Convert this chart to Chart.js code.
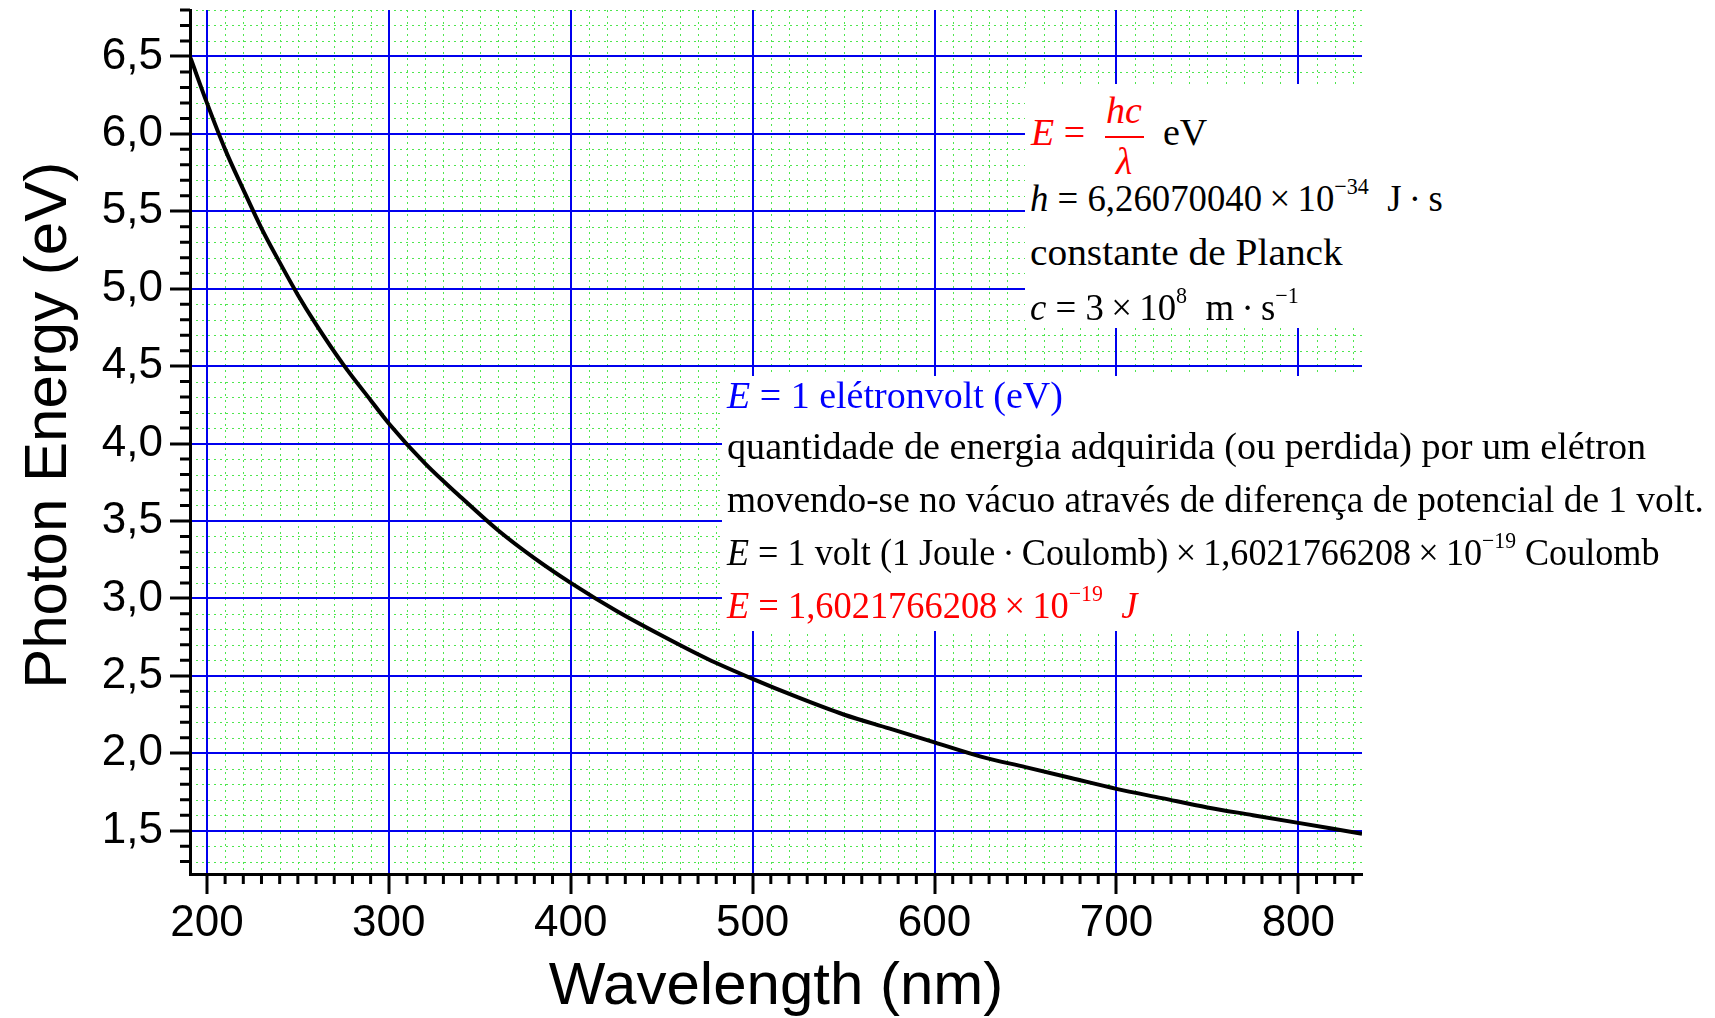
<!DOCTYPE html>
<html>
<head>
<meta charset="utf-8">
<title>Photon Energy vs Wavelength</title>
<script src="https://cdn.jsdelivr.net/npm/chart.js@4.4.1/dist/chart.umd.min.js"></script>
<style>
  html, body { margin: 0; padding: 0; background: #fff; }
  #wrap { position: relative; width: 1715px; height: 1018px; overflow: hidden; }
  .box { position: absolute; background: #fff; }
  .ln { position: absolute; white-space: nowrap; font-family: "Liberation Serif", serif;
        font-size: 38px; line-height: 38px; color: #000; transform-origin: 0 50%; }
  .ln sup { font-size: 0.6em; vertical-align: baseline; position: relative; top: -0.75em; }
  .red { color: #ff0000; }
  .blue { color: #0000ff; }
</style>
</head>
<body>
<div id="wrap">
  <canvas id="chart" width="1715" height="1018"></canvas>

  <!-- formula box, top right -->
  <div class="box" style="left:1025px; top:84px; width:440px; height:244px;"></div>
  <div class="ln red" style="left:1031px; top:113px;"><i>E</i> =</div>
  <div class="ln red" style="left:1103px; top:91px; width:42px; text-align:center;"><i>hc</i></div>
  <div style="position:absolute; left:1105px; top:136px; width:39px; height:2px; background:#ff0000;"></div>
  <div class="ln red" style="left:1103px; top:142px; width:42px; text-align:center;"><i>λ</i></div>
  <div class="ln" style="left:1163px; top:113px;">eV</div>
  <div class="ln" data-w="413" style="left:1030px; top:179px;"><i>h</i> = 6,26070040&thinsp;×&thinsp;10<sup>−34</sup>&nbsp; J&thinsp;·&thinsp;s</div>
  <div class="ln" data-w="313" style="left:1030px; top:233px;">constante de Planck</div>
  <div class="ln" data-w="269" style="left:1030px; top:288px;"><i>c</i> = 3&thinsp;×&thinsp;10<sup>8</sup>&nbsp; m&thinsp;·&thinsp;s<sup>−1</sup></div>

  <!-- electronvolt box, middle right -->
  <div class="box" style="left:722px; top:376px; width:993px; height:255px;"></div>
  <div class="ln blue" data-w="336" style="left:727px; top:376px;"><i>E</i> = 1 elétronvolt (eV)</div>
  <div class="ln" data-w="919" style="left:727px; top:427px;">quantidade de energia adquirida (ou perdida) por um elétron</div>
  <div class="ln" data-w="977" style="left:727px; top:480px;">movendo-se no vácuo através de diferença de potencial de 1 volt.</div>
  <div class="ln" data-w="933" style="left:727px; top:533px;"><i>E</i> = 1 volt (1 Joule&thinsp;·&thinsp;Coulomb)&thinsp;×&thinsp;1,6021766208&thinsp;×&thinsp;10<sup>−19</sup> Coulomb</div>
  <div class="ln red" data-w="410" style="left:727px; top:586px;"><i>E</i> = 1,6021766208&thinsp;×&thinsp;10<sup>−19</sup>&nbsp;&nbsp;<i>J</i></div>
</div>

<script>
// values (nm -> eV)
const wavelength = [191, 200, 210, 220, 230, 240, 250, 260, 275, 290, 300, 320, 340, 360, 380, 400,
  425, 450, 475, 500, 525, 550, 575, 600, 625, 650, 675, 700, 725, 750, 775, 800, 835];
const energy = [6.49, 6.20, 5.90, 5.64, 5.39, 5.17, 4.96, 4.77, 4.51, 4.28, 4.13, 3.87, 3.65, 3.44, 3.26, 3.10,
  2.92, 2.76, 2.61, 2.48, 2.36, 2.25, 2.16, 2.07, 1.98, 1.91, 1.84, 1.77, 1.71, 1.65, 1.60, 1.55, 1.48];

const xTicks = [200, 300, 400, 500, 600, 700, 800];
const yTicks = [1.5, 2.0, 2.5, 3.0, 3.5, 4.0, 4.5, 5.0, 5.5, 6.0, 6.5];

const X_MIN = 190.7, X_MAX = 835;
const Y_MIN = 1.22, Y_MAX = 6.8;
const X_MINOR = 10, Y_MINOR = 0.1;

// squeeze the annotation lines to the widths they have in the original
function fitLines() {
  document.querySelectorAll('.ln[data-w]').forEach(el => {
    const w = el.scrollWidth;
    if (w > 0) el.style.transform = 'scaleX(' + (+el.dataset.w / w) + ')';
  });
}
if (document.fonts && document.fonts.ready) document.fonts.ready.then(fitLines);
fitLines();

// green dotted minor grid + short minor ticks, drawn under the blue major grid
const minorGrid = {
  id: 'minorGrid',
  beforeDraw(chart) {
    const { ctx, chartArea: a, scales: { x, y } } = chart;
    ctx.save();
    ctx.fillStyle = '#fff';
    ctx.fillRect(0, 0, chart.width, chart.height);

    const xs = [];
    for (let i = Math.ceil(X_MIN / X_MINOR); i * X_MINOR <= X_MAX; i++) {
      if (i % 10 !== 0) xs.push(x.getPixelForValue(i * X_MINOR));
    }
    const ys = [];
    for (let i = Math.ceil(Y_MIN / Y_MINOR - 1e-6); i * Y_MINOR <= Y_MAX + 1e-6; i++) {
      if (i % 5 !== 0) ys.push(y.getPixelForValue(i * Y_MINOR));
    }

    ctx.strokeStyle = '#4ee64e';
    ctx.lineWidth = 1;
    ctx.setLineDash([2, 4]);
    ctx.beginPath();
    xs.forEach(px => { const p = Math.round(px) + 0.5; ctx.moveTo(p, a.top); ctx.lineTo(p, a.bottom); });
    ys.forEach(py => { const p = Math.round(py) + 0.5; ctx.moveTo(a.left, p); ctx.lineTo(a.right, p); });
    ctx.stroke();

    ctx.setLineDash([]);
    ctx.strokeStyle = '#000';
    ctx.lineWidth = 3;
    ctx.beginPath();
    xs.forEach(px => { ctx.moveTo(px, a.bottom); ctx.lineTo(px, a.bottom + 10); });
    ys.forEach(py => { ctx.moveTo(a.left - 10, py); ctx.lineTo(a.left, py); });
    ctx.stroke();
    ctx.restore();
  }
};

const tickFont = { family: 'Liberation Sans, Arial, sans-serif', size: 44 };
const titleFont = { family: 'Liberation Sans, Arial, sans-serif', size: 60, lineHeight: 1 };

new Chart(document.getElementById('chart'), {
  type: 'line',
  data: {
    datasets: [{
      data: wavelength.map((w, i) => ({ x: w, y: energy[i] })),
      borderColor: '#000',
      borderWidth: 4,
      pointRadius: 0,
      fill: false,
      cubicInterpolationMode: 'monotone'
    }]
  },
  options: {
    responsive: false,
    animation: false,
    devicePixelRatio: 1,
    layout: { padding: { left: 0, top: 10, right: 353, bottom: 0 } },
    plugins: { legend: { display: false }, tooltip: { enabled: false } },
    scales: {
      x: {
        type: 'linear',
        position: 'bottom',
        min: X_MIN,
        max: X_MAX,
        afterBuildTicks: s => { s.ticks = xTicks.map(v => ({ value: v })); },
        afterFit: s => { s.height = 144; s.paddingLeft = 0; s.paddingRight = 0; },
        ticks: { font: tickFont, color: '#000', padding: 3, maxRotation: 0, autoSkip: false,
                 callback: v => String(v) },
        grid: { color: '#0000ee', lineWidth: 2, tickColor: '#000', tickWidth: 3, tickLength: 20 },
        border: { color: '#000', width: 3 },
        title: { display: true, text: 'Wavelength (nm)', font: titleFont, color: '#000',
                 padding: { top: 0, bottom: 1 } }
      },
      y: {
        type: 'linear',
        position: 'left',
        min: Y_MIN,
        max: Y_MAX,
        afterBuildTicks: s => { s.ticks = yTicks.map(v => ({ value: v })); },
        afterFit: s => { s.width = 190; s.paddingTop = 0; s.paddingBottom = 0; },
        ticks: { font: tickFont, color: '#000', padding: 7, autoSkip: false,
                 callback: v => v.toFixed(1).replace('.', ',') },
        grid: { color: '#0000ee', lineWidth: 2, tickColor: '#000', tickWidth: 3, tickLength: 20 },
        border: { color: '#000', width: 3 },
        // two leading spaces nudge the centred title up a little, as in the original
        title: { display: true, text: '  Photon Energy (eV)', font: titleFont, color: '#000',
                 padding: { top: 19, bottom: 0 } }
      }
    }
  },
  plugins: [minorGrid]
});
</script>
</body>
</html>
